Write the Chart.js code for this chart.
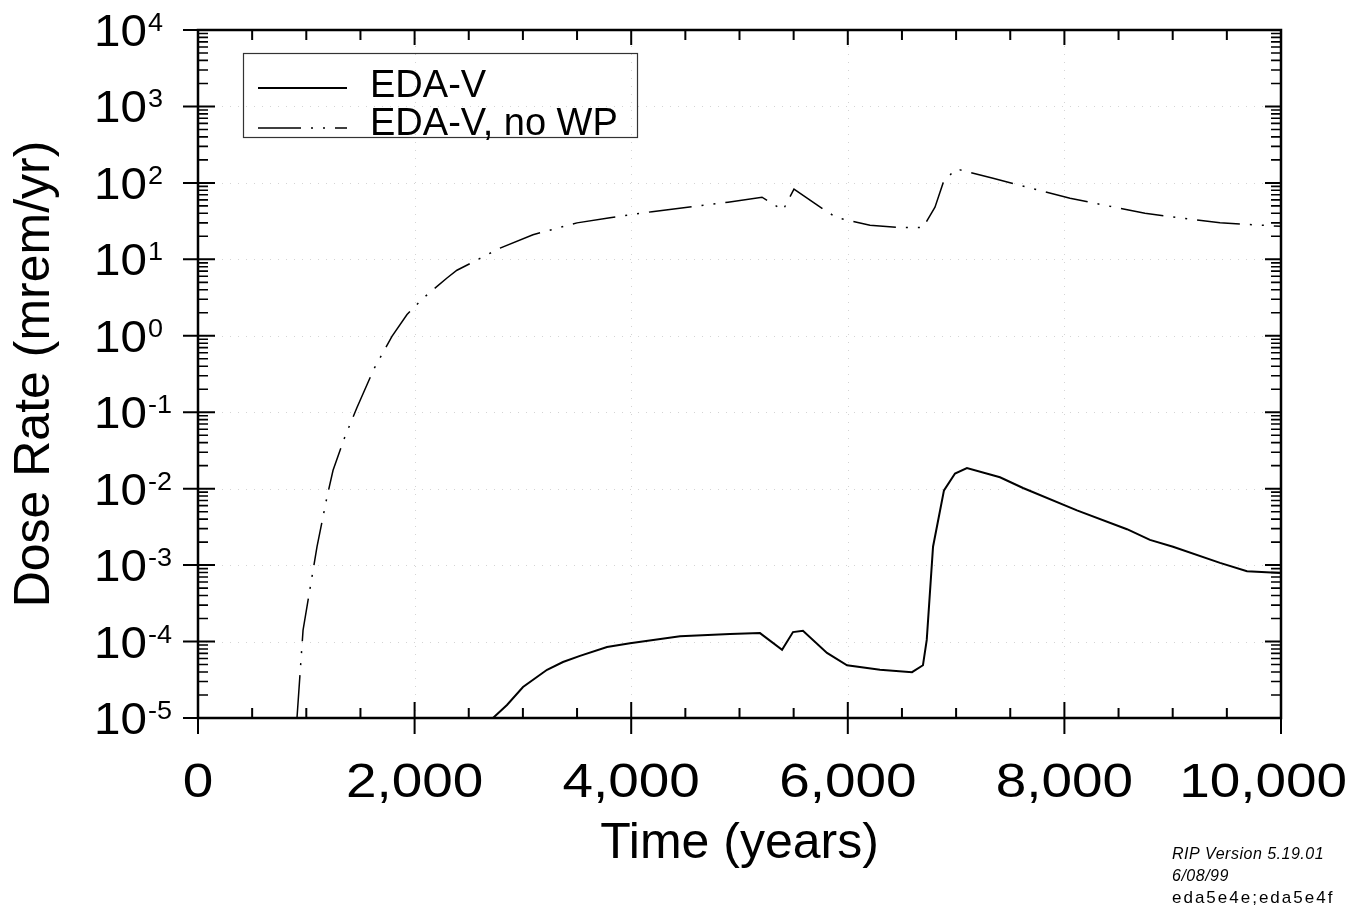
<!DOCTYPE html>
<html><head><meta charset="utf-8">
<script src="https://cdn.jsdelivr.net/npm/chart.js@4"></script>
<style>html,body{margin:0;padding:0;background:#fff;}#wrap{width:1366px;height:907px;position:relative;}</style>
</head><body><div id="wrap"><canvas id="c" width="1366" height="907"></canvas></div>
<script>
// ---- data ----
const timeEdaV = [2724,2853,3001,3223,3370,3527,3777,3989,4451,4912,5189,5393,5494,5586,5808,5993,6297,6593,6694,6729,6787,6888,6990,7100,7405,7618,8116,8578,8790,9003,9437,9686,10000];
const doseEdaV = [1e-5,1.48e-5,2.54e-5,4.27e-5,5.4e-5,6.5e-5,8.5e-5,9.5e-5,1.17e-4,1.26e-4,1.29e-4,7.8e-5,1.33e-4,1.38e-4,7.1e-5,4.9e-5,4.27e-5,3.98e-5,4.9e-5,1.05e-4,1.74e-3,9.5e-3,0.0158,0.0186,0.0141,0.0102,5.2e-3,2.95e-3,2.14e-3,1.74e-3,1.07e-3,8.3e-4,7.9e-4];
const timeNoWP = [914,970,1099,1191,1247,1357,1468,1625,1791,1930,2078,2188,2299,2391,2789,3093,3500,3804,4192,4894,5208,5402,5503,5808,5900,6205,6500,6694,6805,6880,6990,7036,7341,8052,8744,9437,10000];
const doseNoWP = [1e-5,1.41e-4,1.74e-3,7.8e-3,0.0174,0.048,0.115,0.37,0.98,1.9,3.1,4.2,5.7,7.2,14,21,30,35,42,56,65,44,83,42,35,28,26,26,48,100,150,148,115,63,40,30,27];
const seriesNames = ['EDA-V','EDA-V, no WP'];
const xTickValues = [0,2000,4000,6000,8000,10000];
const xTickLabels = ['0','2,000','4,000','6,000','8,000','10,000'];
const xMinorStep = 500;
const yTickExponents = [4,3,2,1,0,-1,-2,-3,-4,-5];
const xTitle = 'Time (years)';
const yTitle = 'Dose Rate (mrem/yr)';
const footnote = ['RIP Version 5.19.01','6/08/99','eda5e4e;eda5e4f'];

const FONT = "'Liberation Sans', Arial, Helvetica, sans-serif";
const DASHDOT = [43,10,2,10,2,10];

function pts(xs, ys){ return xs.map((x,i)=>({x:x,y:ys[i]})); }

const decor = {
  id:'decor',
  beforeDatasetsDraw(chart){
    const ctx = chart.ctx, xs = chart.scales.x, ys = chart.scales.y, a = chart.chartArea;
    ctx.save();
    ctx.strokeStyle = '#d4d4d4'; ctx.lineWidth = 1; ctx.setLineDash([1,7]);
    yTickExponents.forEach(e=>{
      const y = Math.round(ys.getPixelForValue(Math.pow(10,e)))+0.5;
      ctx.beginPath(); ctx.moveTo(a.left,y); ctx.lineTo(a.right,y); ctx.stroke();
    });
    xTickValues.forEach(v=>{
      const x = Math.round(xs.getPixelForValue(v))+0.5;
      ctx.beginPath(); ctx.moveTo(x,a.top); ctx.lineTo(x,a.bottom); ctx.stroke();
    });
    ctx.restore();
  },
  afterDraw(chart){
    const ctx = chart.ctx, xs = chart.scales.x, ys = chart.scales.y, a = chart.chartArea;
    ctx.save();
    ctx.strokeStyle = '#000'; ctx.fillStyle = '#000'; ctx.setLineDash([]);
    // frame
    ctx.lineWidth = 2.5;
    ctx.strokeRect(a.left, a.top, a.right-a.left, a.bottom-a.top);
    // x ticks
    ctx.lineWidth = 2;
    const xMin = xs.min, xMax = xs.max;
    for(let v=xMin; v<=xMax; v+=xMinorStep){
      const x = xs.getPixelForValue(v);
      const major = xTickValues.includes(v);
      ctx.beginPath();
      if(major){
        ctx.moveTo(x, a.bottom+16); ctx.lineTo(x, a.bottom-16);
        ctx.moveTo(x, a.top); ctx.lineTo(x, a.top+15);
      } else {
        ctx.moveTo(x, a.bottom); ctx.lineTo(x, a.bottom-10);
        ctx.moveTo(x, a.top); ctx.lineTo(x, a.top+10);
      }
      ctx.stroke();
    }
    // y ticks
    yTickExponents.forEach(e=>{
      const base = Math.pow(10,e);
      const y = ys.getPixelForValue(base);
      ctx.lineWidth = 2;
      ctx.beginPath();
      ctx.moveTo(a.left-15, y); ctx.lineTo(a.left+17, y);
      ctx.moveTo(a.right, y); ctx.lineTo(a.right-16, y);
      ctx.stroke();
      if(e < 4){
        ctx.lineWidth = 1.6;
        for(let m=2;m<=9;m++){
          const ym = ys.getPixelForValue(base*m);
          ctx.beginPath();
          ctx.moveTo(a.left, ym); ctx.lineTo(a.left+10, ym);
          ctx.moveTo(a.right, ym); ctx.lineTo(a.right-10, ym);
          ctx.stroke();
        }
      }
    });
    // y tick labels
    const lx = 94;
    yTickExponents.forEach(e=>{
      const y = ys.getPixelForValue(Math.pow(10,e));
      ctx.save();
      ctx.translate(lx, y+16); ctx.scale(1.08,1);
      ctx.font = '44px '+FONT; ctx.textAlign='left'; ctx.textBaseline='alphabetic';
      ctx.fillText('10',0,0);
      const w = ctx.measureText('10').width;
      ctx.font = '25px '+FONT;
      ctx.fillText(String(e), w+1, -15);
      ctx.restore();
    });
    // x tick labels
    xTickValues.forEach((v,i)=>{
      const x = xs.getPixelForValue(v);
      ctx.save();
      ctx.font = '49px '+FONT;
      const sx = 1.12;
      const w = ctx.measureText(xTickLabels[i]).width*sx;
      let left = x - w/2;
      if(left + w > 1347) left = 1347 - w;
      ctx.translate(left, 797); ctx.scale(sx,1);
      ctx.textAlign='left'; ctx.textBaseline='alphabetic';
      ctx.fillText(xTickLabels[i],0,0);
      ctx.restore();
    });
    // axis titles
    ctx.font = '50px '+FONT; ctx.textAlign='center'; ctx.textBaseline='alphabetic';
    ctx.fillText(xTitle, (a.left+a.right)/2, 858);
    ctx.save();
    ctx.translate(49, (a.top+a.bottom)/2); ctx.rotate(-Math.PI/2);
    ctx.fillText(yTitle, 0, 0);
    ctx.restore();
    // legend
    ctx.lineWidth = 1.2; ctx.strokeStyle = '#333';
    ctx.strokeRect(243.5, 53.5, 394, 84);
    ctx.strokeStyle = '#000';
    ctx.lineWidth = 2; ctx.beginPath(); ctx.moveTo(258,88); ctx.lineTo(347,88); ctx.stroke();
    ctx.lineWidth = 1.5; ctx.setLineDash(DASHDOT); ctx.beginPath(); ctx.moveTo(258,128); ctx.lineTo(347,128); ctx.stroke();
    ctx.setLineDash([]);
    ctx.font = '38px '+FONT; ctx.textAlign='left';
    ctx.fillText(seriesNames[0], 370, 97);
    ctx.fillText(seriesNames[1], 370, 135);
    // footnote
    ctx.letterSpacing = '0.5px';
    ctx.font = 'italic 16px '+FONT;
    ctx.fillText(footnote[0], 1172, 859);
    ctx.fillText(footnote[1], 1172, 881);
    ctx.letterSpacing = '2px';
    ctx.font = '17px '+FONT;
    ctx.fillText(footnote[2], 1172, 903);
    ctx.restore();
  }
};

new Chart(document.getElementById('c'), {
  type:'line',
  data:{
    datasets:[
      {label:seriesNames[0], data:pts(timeEdaV,doseEdaV), borderColor:'#000', borderWidth:2, pointRadius:0, tension:0, fill:false},
      {label:seriesNames[1], data:pts(timeNoWP,doseNoWP), borderColor:'#000', borderWidth:1.5, borderDash:DASHDOT, pointRadius:0, tension:0, fill:false}
    ]
  },
  options:{
    responsive:false, animation:false, devicePixelRatio:1,
    layout:{padding:{left:198, right:85, top:30, bottom:189}},
    plugins:{legend:{display:false}, tooltip:{enabled:false}},
    scales:{
      x:{type:'linear', min:0, max:10000, display:false},
      y:{type:'logarithmic', min:1e-5, max:1e4, display:false}
    }
  },
  plugins:[decor]
});
</script>
</body></html>
